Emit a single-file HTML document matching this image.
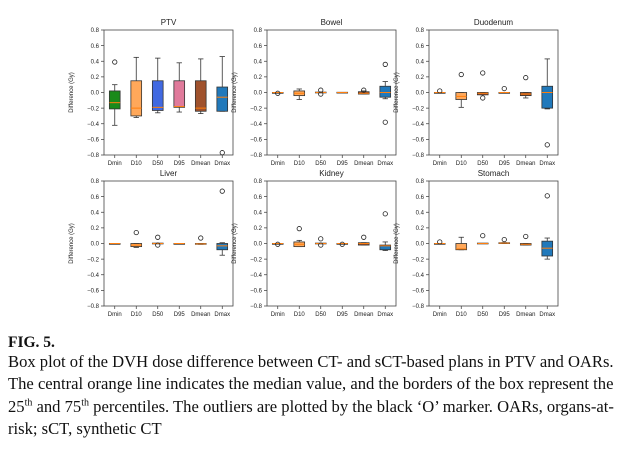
<!DOCTYPE html>
<html><head><meta charset="utf-8">
<style>
html,body{margin:0;padding:0;background:#fff;}
body{width:625px;height:450px;position:relative;overflow:hidden;font-family:"Liberation Sans",sans-serif;}
#cap{position:absolute;left:8px;top:335px;width:620px;font-family:"Liberation Serif",serif;font-size:16.6px;line-height:22.6px;color:#111;white-space:nowrap;}
#cap sup{font-size:10px;line-height:0;}
</style></head>
<body>
<svg id="chart" width="625" height="335" style="position:absolute;left:0;top:0"></svg>
<div id="cap">
<div style="font-weight:bold;font-size:15.5px;line-height:15.5px">FIG. 5.</div>
Box plot of the DVH dose difference between CT- and sCT-based plans in PTV and OARs.<br>
The central orange line indicates the median value, and the borders of the box represent the<br>
25<sup>th</sup> and 75<sup>th</sup> percentiles. The outliers are plotted by the black ‘O’ marker. OARs, organs-at-<br>
risk; sCT, synthetic CT
</div>
<script>
const categories=["Dmin","D10","D50","D95","Dmean","Dmax"];
const panelTitles=["PTV","Bowel","Duodenum","Liver","Kidney","Stomach"];
const yTicks=[0.8,0.6,0.4,0.2,0.0,-0.2,-0.4,-0.6,-0.8];
const yTickLabels=["0.8","0.6","0.4","0.2","0.0","\u22120.2","\u22120.4","\u22120.6","\u22120.8"];
// each stat: [whiskerLow, q1, median, q3, whiskerHigh]
const ptvStats=[[-0.42,-0.21,-0.13,0.02,0.10],[-0.32,-0.30,-0.20,0.15,0.45],[-0.26,-0.23,-0.19,0.15,0.44],[-0.25,-0.19,-0.18,0.15,0.38],[-0.27,-0.24,-0.20,0.15,0.43],[-0.24,-0.24,-0.06,0.07,0.46]];
const ptvOutliers=[[0.39],[],[],[],[],[-0.77]];
const bowelStats=[[0,0,0,0,0],[-0.09,-0.04,-0.01,0.02,0.045],[0,-0.005,0,0.005,0],[0,0,0,0.003,0],[-0.02,-0.02,-0.01,0.01,0.02],[-0.08,-0.06,0.0,0.08,0.14]];
const bowelOutliers=[[-0.01],[],[0.03,-0.02],[],[0.03],[0.36,-0.38]];
const duodenumStats=[[0,0,0,0,0],[-0.19,-0.09,-0.05,0.0,0.0],[-0.03,-0.03,-0.01,0.0,0.0],[0,0,0,0,0],[-0.07,-0.04,-0.02,0.0,0.0],[-0.21,-0.20,0.0,0.08,0.43]];
const duodenumOutliers=[[0.02],[0.23],[0.25,-0.07],[0.05],[0.19],[-0.67]];
const liverStats=[[0,0,0,0,0],[-0.05,-0.04,-0.02,0.0,0.0],[0,-0.005,0,0.005,0],[0,0,0,0,0],[-0.01,-0.01,-0.005,0.0,0.0],[-0.15,-0.08,-0.03,0.0,0.01]];
const liverOutliers=[[],[0.14],[0.08,-0.02],[],[0.07],[0.67]];
const kidneyStats=[[0,0,0,0,0],[-0.04,-0.04,-0.01,0.02,0.04],[0,-0.005,0,0.005,0],[0,0,0,0,0],[-0.02,-0.02,0,0.01,0.01],[-0.09,-0.08,-0.03,-0.02,0.02]];
const kidneyOutliers=[[-0.01],[0.19],[0.06,-0.02],[-0.01],[0.08],[0.38]];
const stomachStats=[[0,0,0,0,0],[-0.08,-0.08,-0.07,0.0,0.08],[0,-0.005,0,0.005,0],[0,0,0.005,0.01,0.01],[-0.02,-0.02,-0.01,0,0],[-0.20,-0.16,-0.06,0.03,0.07]];
const stomachOutliers=[[0.02],[],[0.10],[0.05],[0.09],[0.61]];
const ptvColors=["#1a8a1a","#ffa85a","#4169e1","#e07a9b","#a0522d","#2179bb"];
const oarColors=["#ffa85a","#ffa85a","#b5562c","#ffa85a","#a0522d","#2179bb"];

const allStats=[ptvStats,bowelStats,duodenumStats,liverStats,kidneyStats,stomachStats];
const allOutliers=[ptvOutliers,bowelOutliers,duodenumOutliers,liverOutliers,kidneyOutliers,stomachOutliers];
const NS="http://www.w3.org/2000/svg";
const svg=document.getElementById("chart");
const lefts=[104,267,429],tops=[30,181],PW=129,PH=125;
function mk(tag,attrs,parent){const e=document.createElementNS(NS,tag);for(const k in attrs)e.setAttribute(k,attrs[k]);parent.appendChild(e);return e;}
for(let p=0;p<6;p++){
  const x0=lefts[p%3],y0=tops[Math.floor(p/3)];
  const yS=v=>y0+(0.8-v)/1.6*PH;
  const xS=i=>x0+(i+0.5)/6*PW;
  const g=mk("g",{},svg);
  
  
  const t=mk("text",{x:x0+PW/2,y:y0-5,"text-anchor":"middle","font-size":"8","fill":"#222"},g);
  t.textContent=panelTitles[p];
  
  
  yTicks.forEach((v,i)=>{
    mk("line",{x1:x0-3,x2:x0,y1:yS(v),y2:yS(v),stroke:"#333","stroke-width":0.7},g);
    const tl=mk("text",{x:x0-5,y:yS(v)+2.2,"text-anchor":"end","font-size":"6","fill":"#222"},g);
    tl.textContent=yTickLabels[i];
    
    
  });
  const yl=mk("text",{x:0,y:0,"text-anchor":"middle","font-size":"6","fill":"#222",transform:`translate(${x0-31},${y0+PH/2}) rotate(-90)`},g);
  yl.textContent="Difference (Gy)";
  
  
  const colors=p===0?ptvColors:oarColors;
  categories.forEach((c,i)=>{
    const cx=xS(i),s=allStats[p][i],bw=PW/6*0.5;
    mk("line",{x1:cx,x2:cx,y1:y0+PH,y2:y0+PH+3,stroke:"#333","stroke-width":0.7},g);
    const xl=mk("text",{x:cx,y:y0+PH+10,"text-anchor":"middle","font-size":"6","fill":"#222"},g);
    xl.textContent=c;
    
    
    const bg=mk("g",{},g);
    
    
    const st={stroke:"#333","stroke-width":0.8};
    mk("line",Object.assign({x1:cx,x2:cx,y1:yS(s[0]),y2:yS(s[1])},st),bg);
    mk("line",Object.assign({x1:cx,x2:cx,y1:yS(s[3]),y2:yS(s[4])},st),bg);
    mk("line",Object.assign({x1:cx-bw/4,x2:cx+bw/4,y1:yS(s[0]),y2:yS(s[0])},st),bg);
    mk("line",Object.assign({x1:cx-bw/4,x2:cx+bw/4,y1:yS(s[4]),y2:yS(s[4])},st),bg);
    const h=Math.max(yS(s[1])-yS(s[3]),0.8);
    mk("rect",{x:cx-bw/2,y:yS(s[3]),width:bw,height:h,fill:colors[i],stroke:"#333","stroke-width":0.8},bg);
    mk("line",{x1:cx-bw/2,x2:cx+bw/2,y1:yS(s[2]),y2:yS(s[2]),stroke:"#ff7f0e","stroke-width":1},bg);
    allOutliers[p][i].forEach(o=>{
      const ci=mk("circle",{cx:cx,cy:yS(o),r:2.2,fill:"none",stroke:"#222","stroke-width":0.8},bg);
      
      
    });
  });
  mk("rect",{x:x0,y:y0,width:PW,height:PH,fill:"none",stroke:"#444","stroke-width":0.8},g);
}
</script>
</body></html>
